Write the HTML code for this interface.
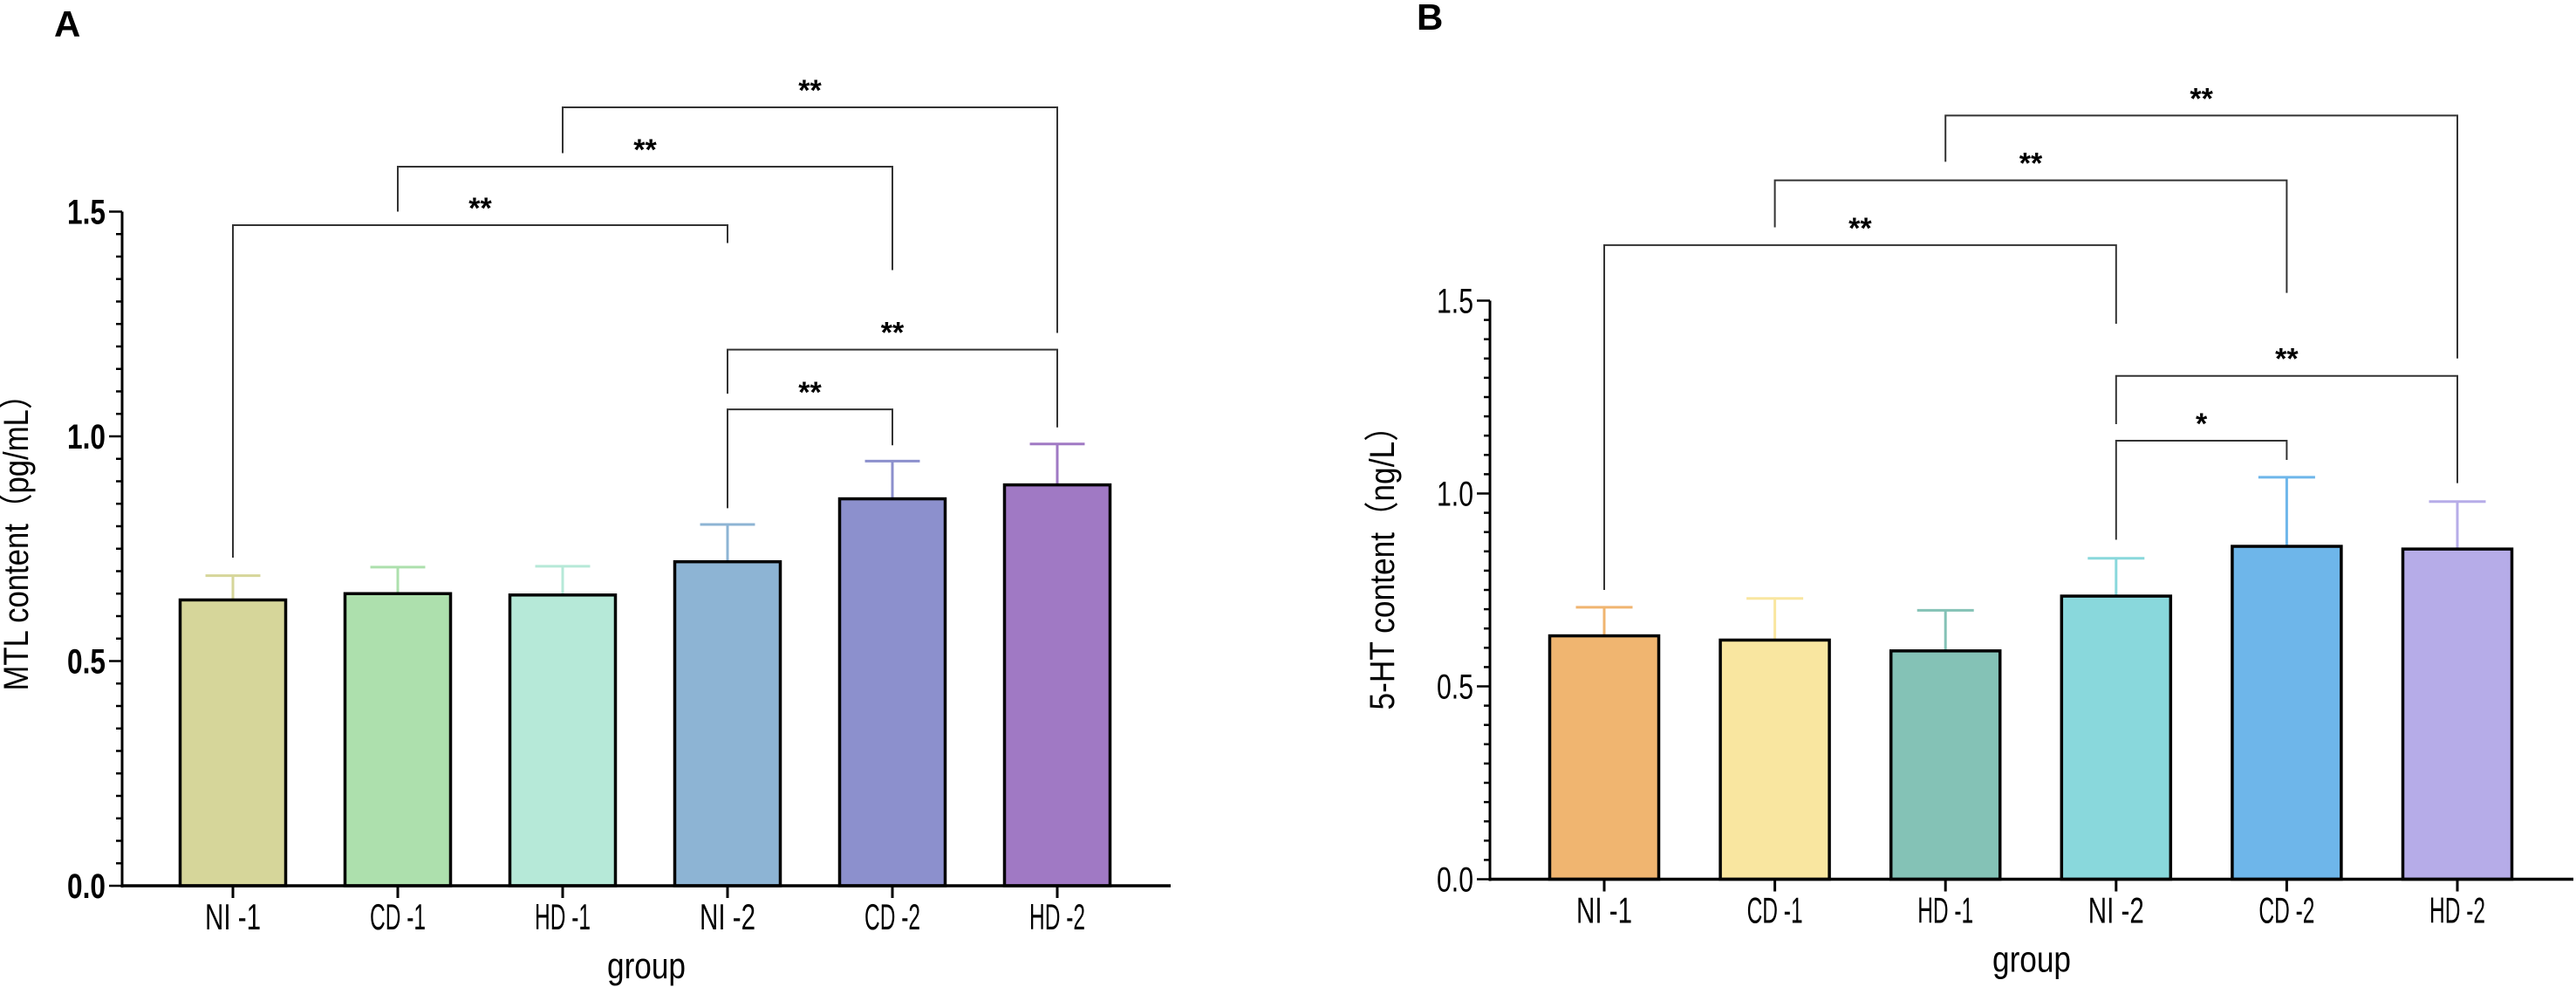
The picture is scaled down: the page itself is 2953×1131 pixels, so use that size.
<!DOCTYPE html>
<html><head><meta charset="utf-8"><style>
html,body{margin:0;padding:0;background:#fff;overflow:hidden;}
svg{display:block;font-family:"Liberation Sans Narrow","Liberation Sans",sans-serif;}
</style></head><body>
<svg id="chart" width="2953" height="1131" viewBox="0 0 2953 1131" xmlns="http://www.w3.org/2000/svg">
<text x="62" y="42" font-size="42" font-weight="bold" font-family="Liberation Sans">A</text>
<text x="1624" y="34" font-size="42" font-weight="bold" font-family="Liberation Sans">B</text>
</svg>
<script>
const categories = ["NI -1","CD -1","HD -1","NI -2","CD -2","HD -2"];
const mtlValues = [0.636,0.650,0.647,0.721,0.861,0.892];
const mtlErrTop = [0.690,0.709,0.711,0.804,0.945,0.983];
const htValues = [0.631,0.620,0.592,0.734,0.863,0.856];
const htErrTop = [0.705,0.728,0.697,0.832,1.042,0.979];
const yTicks = ["0.0","0.5","1.0","1.5"];
// brackets: [from, to, level, leftLegEnd, rightLegEnd, label]
const mtlBrackets = [[0,3,1.470,0.73,1.43,"**"],[1,4,1.600,1.50,1.37,"**"],[2,5,1.732,1.63,1.23,"**"],[3,5,1.193,1.095,1.02,"**"],[3,4,1.060,0.84,0.98,"**"]];
const htBrackets = [[0,3,1.644,0.75,1.44,"**"],[1,4,1.812,1.69,1.52,"**"],[2,5,1.980,1.86,1.35,"**"],[3,5,1.305,1.18,1.027,"**"],[3,4,1.137,0.88,1.087,"*"]];
const mtlColors = ["#d6d69a","#ade0ad","#b6e9d8","#8db4d4","#8c90cd","#a079c4"];
const htColors = ["#f0b570","#f9e6a0","#84c2b6","#89d8dc","#6eb6ea","#b6ace8"];

const svg = document.getElementById('chart');
const NS = "http://www.w3.org/2000/svg";
function mk(tag, attrs, parent){const e=document.createElementNS(NS,tag);for(const k in attrs)e.setAttribute(k,attrs[k]);(parent||svg).appendChild(e);return e;}

function panel(p){
  const g = mk('g',{});
  
  
  const y = v => p.y0 - v*p.unit;
  const x = i => p.x0 + i*p.step;
  categories.forEach((c,i)=>{
    const eb = mk('line',{x1:x(i),x2:x(i),y1:y(p.vals[i]),y2:y(p.err[i]),stroke:p.colors[i],'stroke-width':3},g);
    
    
    const cap = mk('line',{x1:x(i)-p.bw*0.26,x2:x(i)+p.bw*0.26,y1:y(p.err[i]),y2:y(p.err[i]),stroke:p.colors[i],'stroke-width':3},g);
    
    
    const r = mk('rect',{x:x(i)-p.bw/2,y:y(p.vals[i]),width:p.bw,height:y(0)-y(p.vals[i]),fill:p.colors[i],stroke:'#000','stroke-width':3.5},g);
    
    
    const t = mk('line',{x1:x(i),x2:x(i),y1:y(0),y2:y(0)+14,stroke:'#000','stroke-width':3},g);
    
    
    const lb = mk('text',{x:x(i),y:y(0)+50,'font-size':42,'text-anchor':'middle',textLength:64,lengthAdjust:'spacingAndGlyphs'},g);
    lb.textContent = c;
    
    
  });
  const ya = mk('line',{x1:p.ax,x2:p.ax,y1:y(0)+2,y2:y(1.5),stroke:'#000','stroke-width':3},g);
  
  
  const xa = mk('line',{x1:p.ax,x2:p.xend,y1:y(0),y2:y(0),stroke:'#000','stroke-width':3.5},g);
  
  
  for(let k=0;k<=30;k++){
    const v=k*0.05, major=(k%10===0);
    const tk = mk('line',{x1:p.ax-(major?15:7),x2:p.ax,y1:y(v),y2:y(v),stroke:'#000','stroke-width':2.5},g);
    
    
  }
  yTicks.forEach((t,k)=>{
    const tl = mk('text',{x:p.ax-19,y:y(k*0.5)+14,'font-size':40,'text-anchor':'end','font-weight':p.boldY?'bold':'normal',textLength:p.boldY?44:42,lengthAdjust:'spacingAndGlyphs'},g);
    tl.textContent = t;
    
    
  });
  const gx = (p.ax+p.xend)/2;
  const xt = mk('text',{x:gx,y:y(0)+106,'font-size':42,'text-anchor':'middle',textLength:90,lengthAdjust:'spacingAndGlyphs'},g);
  xt.textContent='group';
  
  
  const yt = mk('text',{x:0,y:0,'font-size':40,'text-anchor':'middle',transform:`translate(${p.ylx},${p.yly}) rotate(-90)`,textLength:p.ylen,lengthAdjust:'spacingAndGlyphs'},g);
  yt.textContent=p.ylabel;
  
  
  p.br.forEach(b=>{
    const [a,c,lv,l1,l2,lab]=b;
    const pl = mk('polyline',{points:`${x(a)},${y(l1)} ${x(a)},${y(lv)} ${x(c)},${y(lv)} ${x(c)},${y(l2)}`,fill:'none',stroke:'#333','stroke-width':2},g);
    
    
    const st = mk('text',{x:(x(a)+x(c))/2,y:y(lv)-8,'font-size':34,'font-weight':'bold','text-anchor':'middle','font-family':'Liberation Sans'},g);
    st.textContent=lab;
    
    
  });
}
panel({id:'mtl',vals:mtlValues,err:mtlErrTop,colors:mtlColors,br:mtlBrackets,y0:1015,unit:515,x0:267,step:189,bw:121,ax:140,xend:1342,ylabel:'MTL content（pg/mL）',ylx:32,yly:613,ylen:357,boldY:true});
panel({id:'ht',vals:htValues,err:htErrTop,colors:htColors,br:htBrackets,y0:1007.5,unit:442,x0:1839,step:195.6,bw:125,ax:1708,xend:2950,ylabel:'5-HT content（ng/L）',ylx:1598,yly:642,ylen:343,boldY:false});
</script>
</body></html>
